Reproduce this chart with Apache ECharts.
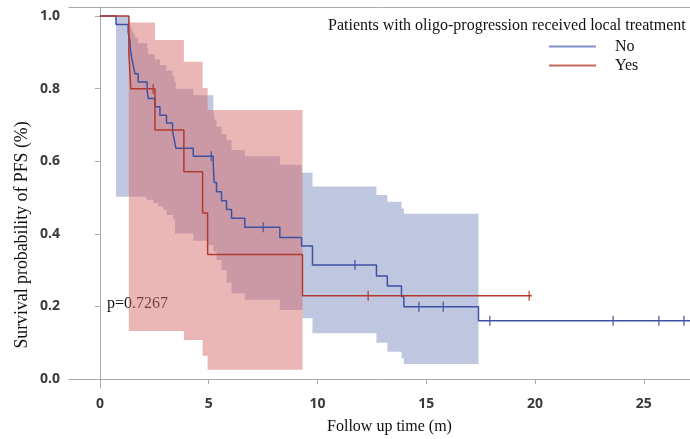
<!DOCTYPE html>
<html>
<head>
<meta charset="utf-8">
<script src="https://cdn.jsdelivr.net/npm/echarts@6/dist/echarts.min.js"></script>
<style>
  html, body { margin: 0; padding: 0; background: #fff; }
  #chart { width: 690px; height: 439px; }
</style>
</head>
<body>
<div id="chart"></div>
<script>
// Kaplan-Meier curves
const noTimes = [0, 0.74, 1.30, 1.38, 1.40, 1.46, 1.53, 1.61, 1.76, 2.17, 2.22, 2.53, 2.76, 3.06, 3.34, 3.42, 3.49, 4.29, 5.21, 5.25, 5.36, 5.59, 5.82, 6.05, 6.66, 8.27, 9.27, 9.77, 12.71, 13.21, 13.86, 13.97, 17.40, 27.5];
const noSurv = [1.0, 0.977, 0.955, 0.932, 0.909, 0.886, 0.864, 0.841, 0.818, 0.795, 0.773, 0.750, 0.727, 0.705, 0.682, 0.659, 0.636, 0.614, 0.590, 0.541, 0.516, 0.491, 0.467, 0.443, 0.418, 0.390, 0.366, 0.314, 0.284, 0.256, 0.227, 0.199, 0.160, 0.160];
const yesTimes = [0, 1.33, 1.42, 2.53, 3.86, 4.72, 4.95, 9.31, 19.85];
const yesSurv = [1.0, 0.900, 0.800, 0.686, 0.571, 0.457, 0.343, 0.229, 0.229];

// censored observations
const noCensorT = [5.12, 7.51, 11.72, 14.66, 15.78, 17.92, 23.59, 25.69, 26.84];
const noCensorS = [0.614, 0.418, 0.314, 0.199, 0.199, 0.160, 0.160, 0.160, 0.160];
const yesCensorT = [2.45, 12.33, 19.73];
const yesCensorS = [0.800, 0.229, 0.229];

// confidence bands (step functions)
const noUpperT = [0.74, 1.30, 1.38, 1.40, 1.46, 1.53, 1.61, 1.76, 2.17, 2.22, 2.53, 2.76, 3.06, 3.34, 3.42, 3.49, 4.29, 5.21, 5.25, 5.36, 5.59, 5.82, 6.05, 6.66, 8.27, 9.27, 9.77, 12.71, 13.21, 13.86, 13.97, 17.40];
const noUpperV = [1.0, 0.99, 0.98, 0.97, 0.96, 0.95, 0.94, 0.925, 0.91, 0.895, 0.88, 0.865, 0.85, 0.835, 0.82, 0.80, 0.782, 0.735, 0.715, 0.695, 0.675, 0.658, 0.631, 0.614, 0.590, 0.568, 0.530, 0.507, 0.488, 0.470, 0.455, 0.455];
const noLowerT = [0.74, 2.14, 2.45, 2.68, 2.91, 3.06, 3.37, 3.45, 4.29, 4.95, 5.21, 5.36, 5.59, 5.82, 6.05, 6.66, 8.27, 9.31, 9.77, 12.71, 13.21, 13.86, 13.97, 17.40];
const noLowerV = [0.502, 0.493, 0.484, 0.475, 0.466, 0.452, 0.440, 0.401, 0.381, 0.369, 0.351, 0.328, 0.300, 0.265, 0.236, 0.218, 0.190, 0.167, 0.126, 0.100, 0.075, 0.057, 0.041, 0.041];
const yesUpperT = [1.33, 2.53, 3.86, 4.72, 4.95, 9.31];
const yesUpperV = [0.982, 0.934, 0.874, 0.802, 0.741, 0.741];
const yesLowerT = [1.33, 3.86, 4.72, 4.95, 9.31];
const yesLowerV = [0.132, 0.107, 0.064, 0.025, 0.025];

const xTicks = [0, 5, 10, 15, 20, 25];
const yTicks = [0, 0.2, 0.4, 0.6, 0.8, 1.0];

const serif = '"Liberation Serif", "Times New Roman", serif';
const blue = '#3F52A2';
const red = '#B23B30';
const axisGray = '#A6ABB3';

function pairs (xs, ys) {
  return xs.map((x, i) => [x, ys[i]]);
}

// polygon for a step band: upper edge left->right, lower edge back right->left
function band (upT, upV, loT, loV, fill) {
  return function (params, api) {
    const pts = [];
    for (let i = 0; i < upT.length; i++) {
      if (i > 0) pts.push(api.coord([upT[i], upV[i - 1]]));
      pts.push(api.coord([upT[i], upV[i]]));
    }
    for (let i = loT.length - 1; i >= 0; i--) {
      pts.push(api.coord([loT[i], loV[i]]));
      if (i > 0) pts.push(api.coord([loT[i], loV[i - 1]]));
    }
    return { type: 'polygon', shape: { points: pts }, style: { fill: fill } };
  };
}

const tickFont = { fontFamily: '"Open Sans", sans-serif', fontSize: 14, fontWeight: 'bold', color: '#3A3A3A' };

let myChart = echarts.init(document.getElementById('chart'), null, { renderer: 'canvas' });
myChart.setOption({
  animation: false,
  grid: { left: 69, right: 0, top: 7, bottom: 51 },
  legend: {
    orient: 'vertical',
    left: 544,
    top: 32,
    itemWidth: 47,
    itemHeight: 2,
    itemGap: 0,
    icon: 'rect',
    data: [
      { name: 'No', itemStyle: { color: '#7F8DC8' } },
      { name: 'Yes', itemStyle: { color: '#C46A5C' } }
    ],
    textStyle: { fontFamily: serif, fontSize: 16, color: '#111', lineHeight: 19, padding: [0, 0, 0, 14] }
  },
  xAxis: [
    {
      type: 'value',
      min: -1.42,
      max: 27.12,
      splitLine: { show: false },
      axisLine: { lineStyle: { color: axisGray } },
      axisTick: { length: 5, lineStyle: { color: axisGray }, customValues: xTicks },
      axisLabel: Object.assign({ customValues: xTicks, margin: 9 }, tickFont)
    },
    {
      // top frame line only
      type: 'value', position: 'top',
      min: -1.42, max: 27.12,
      splitLine: { show: false },
      axisLine: { show: true, lineStyle: { color: axisGray } },
      axisTick: { show: false },
      axisLabel: { show: false }
    }
  ],
  yAxis: {
    type: 'value',
    min: -0.025,
    max: 1.025,
    splitLine: { show: false },
    axisLine: { show: true, lineStyle: { color: axisGray } },
    axisTick: { show: true, length: 5, lineStyle: { color: axisGray }, customValues: yTicks },
    axisLabel: Object.assign({ customValues: yTicks, margin: 9, formatter: v => v.toFixed(1) }, tickFont)
  },
  graphic: [
    {
      type: 'text', x: 328, y: 26,
      style: { text: 'Patients with oligo-progression received local treatment', font: '16px ' + serif, fill: '#111', textVerticalAlign: 'middle' }
    },
    {
      type: 'text', x: 107, y: 304,
      style: { text: 'p=0.7267', font: '16px ' + serif, fill: '#111', textVerticalAlign: 'middle' }
    },
    {
      type: 'text', x: 389.5, y: 427,
      style: { text: 'Follow up time (m)', font: '16px ' + serif, fill: '#111', textAlign: 'center', textVerticalAlign: 'middle' }
    },
    {
      type: 'text', x: 22, y: 235, rotation: Math.PI / 2,
      style: { text: 'Survival probability of PFS (%)', font: '17.8px ' + serif, fill: '#111', textAlign: 'center', textVerticalAlign: 'middle' }
    }
  ],
  series: [
    {
      type: 'custom', name: 'No band', clip: true, silent: true, z: 1,
      data: [[0, 0]],
      renderItem: band(noUpperT, noUpperV, noLowerT, noLowerV, 'rgba(127,141,191,0.5)')
    },
    {
      type: 'custom', name: 'Yes band', clip: true, silent: true, z: 2,
      data: [[0, 0]],
      renderItem: band(yesUpperT, yesUpperV, yesLowerT, yesLowerV, 'rgba(215,109,109,0.5)')
    },
    {
      name: 'No', type: 'line', step: 'end', showSymbol: false, z: 3,
      data: pairs(noTimes, noSurv),
      lineStyle: { color: blue, width: 1.5 },
      itemStyle: { color: blue }
    },
    {
      name: 'Yes', type: 'line', step: 'end', showSymbol: false, z: 4,
      data: pairs(yesTimes, yesSurv),
      lineStyle: { color: red, width: 1.5 },
      itemStyle: { color: red }
    },
    {
      name: 'No censored', type: 'scatter', symbol: 'rect', symbolSize: [1.5, 10], z: 5,
      data: pairs(noCensorT, noCensorS),
      itemStyle: { color: blue }
    },
    {
      name: 'Yes censored', type: 'scatter', symbol: 'rect', symbolSize: [1.5, 10], z: 6,
      data: pairs(yesCensorT, yesCensorS),
      itemStyle: { color: red }
    }
  ]
});
</script>
</body>
</html>
